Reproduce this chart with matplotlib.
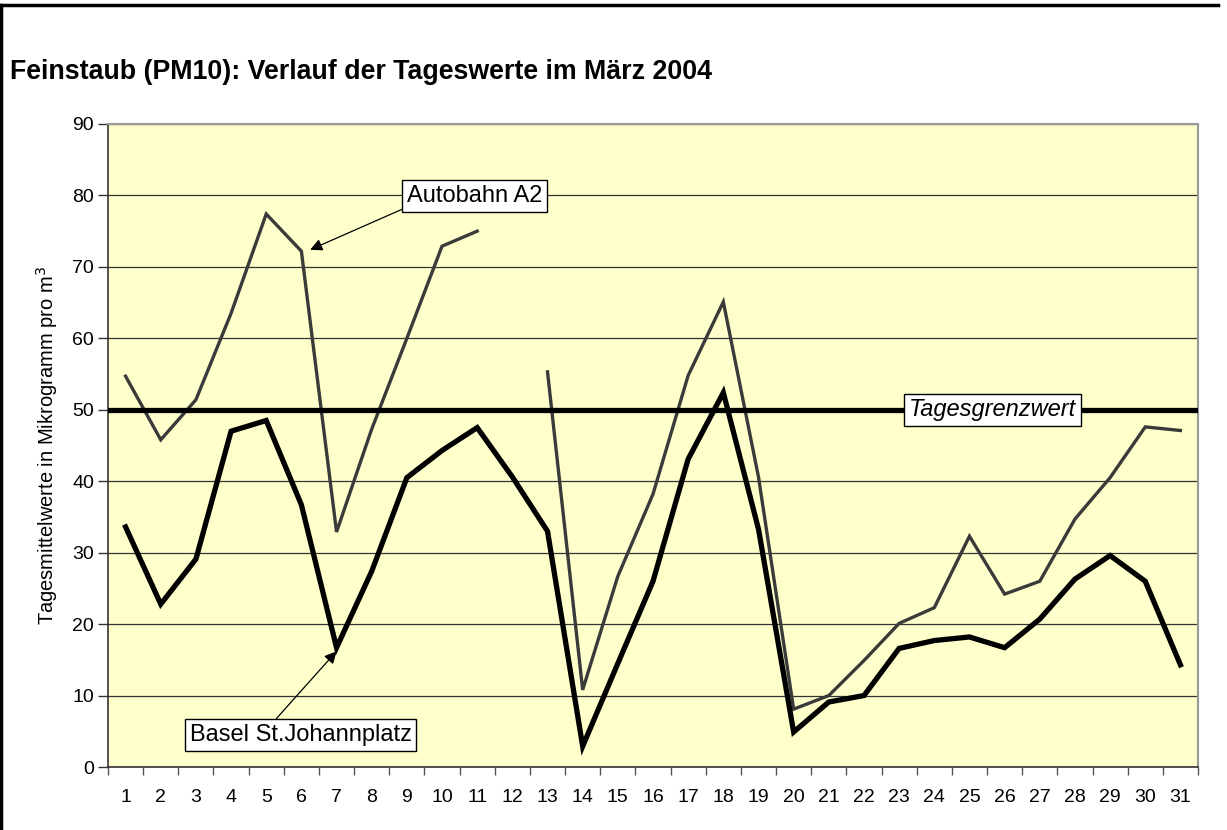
import numpy as np
import matplotlib
matplotlib.use("Agg")
import matplotlib.pyplot as plt
from matplotlib.lines import Line2D

days = list(range(1, 32))
autobahn_a2 = [54.7, 45.8, 51.4, 63.5, 77.4, 72.2, 32.9, 47.3, 60.0, 72.9, 75.0, np.nan,
               55.3, 10.8, 26.7, 38.2, 54.8, 65.1, 40.6, 8.1, 10.0, 14.9, 20.1, 22.3,
               32.3, 24.2, 26.0, 34.7, 40.5, 47.6, 47.1]
basel = [33.6, 22.8, 29.1, 47.0, 48.5, 36.7, 16.7, 27.4, 40.5, 44.3, 47.5, 40.6,
         33.0, 2.9, 14.5, 26.0, 43.1, 52.4, 33.3, 4.9, 9.1, 10.0, 16.6, 17.7,
         18.2, 16.7, 20.7, 26.3, 29.6, 26.0, 14.3]
grenzwert = 50
yticks = list(range(0, 100, 10))

title = "Feinstaub (PM10): Verlauf der Tageswerte im März 2004"
ylabel = "Tagesmittelwerte in Mikrogramm pro m$^{3}$"

plt.rcParams['font.family'] = ['Liberation Sans', 'DejaVu Sans']

fig = plt.figure(figsize=(12.27, 8.30), dpi=100)
fig.patch.set_facecolor('white')
ax = fig.add_axes([108/1227, 63/830, 1090/1227, 643/830])
ax.set_facecolor('#FFFFCC')

ax.set_xlim(0.5, 31.5)
ax.set_ylim(0, 90)

# grid
ax.set_yticks(yticks)
ax.yaxis.grid(True, color='#333333', linewidth=0.9)
ax.set_axisbelow(True)

ax.plot(days, autobahn_a2, color='#3a3a3a', linewidth=2.4, solid_joinstyle='miter', zorder=3)
ax.plot(days, basel, color='black', linewidth=3.8, solid_joinstyle='miter', zorder=4)
ax.axhline(grenzwert, color='black', linewidth=3.8, zorder=5)

# ticks
ax.set_xticks(np.arange(0.5, 32, 1))
ax.set_xticklabels([])
ax.set_xticks(days, minor=True)
ax.set_xticklabels([str(d) for d in days], minor=True, fontsize=14)
ax.tick_params(axis='x', which='major', direction='out', length=6, width=1, color='#555555')
ax.tick_params(axis='x', which='minor', length=0, pad=16)
ax.tick_params(axis='y', direction='out', length=7, width=1, color='#333333', labelsize=14, pad=3)

for s in ['top', 'right']:
    ax.spines[s].set_color('#999999')
    ax.spines[s].set_linewidth(1.5)
ax.spines['left'].set_color('#333333')
ax.spines['bottom'].set_color('#333333')
ax.spines['left'].set_linewidth(1.2)
ax.spines['bottom'].set_linewidth(1.2)

ax.set_ylabel(ylabel, fontsize=14.5, labelpad=9)

bbox = dict(boxstyle='square,pad=0.2', facecolor='white', edgecolor='black', linewidth=1)
ax.annotate('Autobahn A2', xy=(6.25, 72.4), xytext=(9.0, 79.9), fontsize=17,
            ha='left', va='center', bbox=bbox, zorder=10,
            arrowprops=dict(arrowstyle='-|>', color='black', lw=0.9,
                            mutation_scale=18, shrinkA=0, shrinkB=0,
                            relpos=(0, 0)))
ax.annotate('Basel St.Johannplatz', xy=(7.0, 16.2), xytext=(2.82, 4.5), fontsize=17,
            ha='left', va='center', bbox=bbox, zorder=10,
            arrowprops=dict(arrowstyle='-|>', color='black', lw=0.9,
                            mutation_scale=18, shrinkA=0, shrinkB=0,
                            relpos=(0.37, 1)))
ax.text(25.66, 50, 'Tagesgrenzwert', fontsize=17, style='italic', ha='center', va='center',
        bbox=bbox, zorder=10)

fig.text(10/1227, 1 - 72/830, title, fontsize=19.3, fontweight='bold', ha='left', va='center')

# outer frame (top and left)
fig.add_artist(Line2D([0, 1218/1227], [1 - 5.5/830, 1 - 5.5/830], color='black', linewidth=2.5,
                      transform=fig.transFigure))
fig.add_artist(Line2D([1/1227, 1/1227], [0, 1 - 5.5/830], color='black', linewidth=2.5,
                      transform=fig.transFigure))

fig.savefig('out.png', dpi=100)
